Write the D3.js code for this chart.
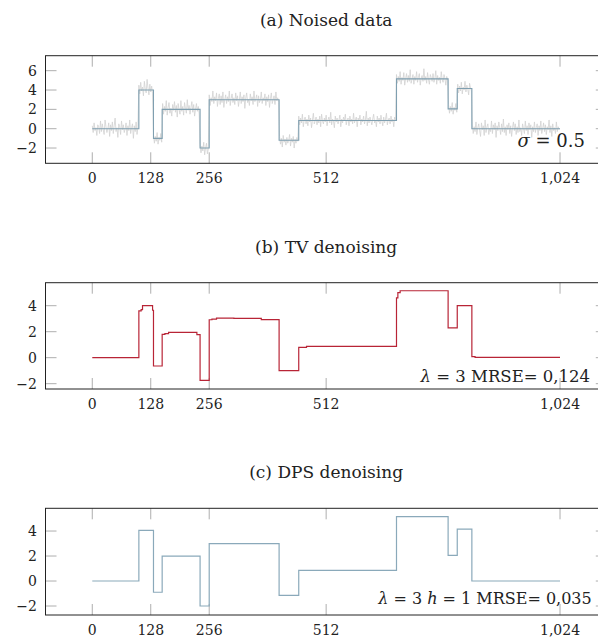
<!DOCTYPE html>
<html>
<head>
<meta charset="utf-8">
<script src="https://cdn.jsdelivr.net/npm/d3@7"></script>
<style>
  body { margin: 0; background: #fff; }
  text { font-family: "DejaVu Serif", serif; fill: #222; }
</style>
</head>
<body>
<div id="chart"></div>
<script>
// x ticks shared by all panels
var xTicks = [0, 128, 256, 512, 1024];

// noisy samples, x = 0, 2, 4, ... 1022
var noised = [
  // 0..100
  0.3, -0.4, 0.6, -0.2, 0.1, -0.7, 0.4, 0.2, -0.5, 0.8,
  -0.3, 0.5, -0.1, -0.6, 0.9, 0.2, -0.4, 0.0, 0.6, -0.8,
  0.4, -0.2, 0.7, -0.5, 0.3, 1.1, -0.3, 0.1, -0.9, 0.5,
  0.2, -0.6, 0.8, -0.1, 0.4, -0.4, 0.0, 0.6, -0.7, 0.3,
  -0.2, 0.9, -0.5, 0.1, 0.5, -1.0, 0.3, -0.3, 0.7, -0.6,
  0.2,
  // 102..132
  4.5, 3.6, 4.8, 3.9, 4.3, 3.4, 4.9, 4.1, 3.7, 5.1, 4.2, 3.5, 4.6, 3.8, 4.4, 3.6,
  // 134..152
  -0.6, -1.5, -0.8, -1.3, -0.4, -1.6, -0.9, -1.2, -0.5, -1.4,
  // 154..234
  2.6, 1.5, 2.3, 1.8, 2.9, 1.4, 2.2, 2.7, 1.6, 2.1,
  1.3, 2.5, 1.9, 2.8, 1.7, 2.4, 1.2, 2.6, 2.0, 1.5,
  2.9, 1.8, 2.3, 1.4, 2.7, 2.1, 1.6, 3.0, 1.9, 2.4,
  1.5, 2.2, 2.8, 1.7, 2.5, 1.3, 2.0, 2.6, 1.8, 2.3,
  1.6,
  // 236..254
  -1.6, -2.5, -1.8, -2.3, -1.4, -2.7, -2.0, -1.5, -2.6, -2.1,
  // 256..408
  3.5, 2.4, 3.2, 2.8, 3.9, 2.6, 3.3, 2.9, 3.7, 2.3,
  3.1, 3.6, 2.5, 3.4, 2.7, 3.8, 2.2, 3.0, 3.5, 2.6,
  3.3, 2.8, 3.9, 2.4, 3.1, 3.6, 2.7, 3.2, 2.5, 3.7,
  2.9, 3.4, 2.3, 3.0, 3.8, 2.6, 3.3, 2.8, 3.5, 2.1,
  3.2, 3.7, 2.7, 3.0, 2.4, 3.6, 2.9, 3.3, 2.5, 3.9,
  2.8, 3.1, 3.5, 2.3, 3.4, 2.7, 3.0, 3.8, 2.6, 3.2,
  2.9, 3.6, 2.4, 3.3, 2.8, 3.5, 2.2, 3.1, 3.7, 2.6,
  3.0, 3.4, 2.5, 3.8, 2.9, 3.2, 2.7,
  // 410..450
  -0.8, -1.6, -1.0, -1.9, -0.7, -1.4, -1.1, -1.7, -0.9, -1.5,
  -1.2, -0.6, -1.8, -1.0, -1.4, -0.8, -2.0, -1.1, -1.5, -0.9,
  -1.3,
  // 452..664
  1.3, 0.4, 1.1, 0.6, 1.5, 0.2, 0.9, 1.2, 0.5, 1.0,
  0.3, 1.4, 0.7, 1.1, 0.1, 0.9, 1.6, 0.5, 0.8, 1.2,
  0.4, 1.0, 0.6, 1.3, 0.2, 1.5, 0.8, 0.5, 1.1, 0.7,
  1.4, 0.3, 0.9, 1.2, 0.6, 1.7, 0.4, 1.0, 0.8, 0.1,
  1.3, 0.7, 1.1, 0.5, 0.9, 1.4, 0.2, 1.0, 0.6, 1.2,
  0.8, 1.5, 0.4, 0.9, 1.1, 0.3, 1.3, 0.7, 1.0, 0.5,
  1.6, 0.6, 0.9, 1.2, 0.2, 1.1, 0.8, 1.4, 0.4, 1.0,
  0.7, 1.3, 0.5, 0.9, 1.8, 0.3, 1.1, 0.6, 1.2, 0.8,
  0.4, 1.0, 1.5, 0.6, 0.9, 0.2, 1.3, 0.7, 1.1, 0.5,
  1.4, 0.8, 0.3, 1.2, 0.6, 1.0, 1.6, 0.4, 0.9, 1.1,
  0.5, 1.3, 0.7, 1.0, 0.2, 1.2, 0.8,
  // 666..778
  5.6, 4.7, 5.4, 4.9, 5.9, 4.6, 5.3, 5.0, 5.8, 4.5,
  5.2, 5.7, 4.8, 5.5, 4.9, 6.1, 4.7, 5.1, 5.6, 4.6,
  5.4, 5.0, 5.9, 4.8, 5.3, 5.7, 4.5, 5.2, 5.5, 4.9,
  6.2, 5.0, 5.4, 4.7, 5.8, 5.1, 4.6, 5.6, 5.3, 4.9,
  5.7, 4.8, 5.2, 6.0, 4.6, 5.5, 5.0, 5.3, 4.7, 5.9,
  5.1, 4.8, 5.6, 5.2, 4.5, 5.4, 5.0,
  // 780..798
  2.5, 1.6, 2.3, 1.8, 2.7, 1.5, 2.2, 1.9, 2.6, 1.7,
  // 800..830
  4.6, 3.7, 4.4, 3.9, 4.8, 3.6, 4.3, 4.0, 4.9, 3.8, 4.5, 4.1, 3.5, 4.7, 4.2, 3.9,
  // 832..1022
  0.4, -0.5, 0.2, -0.3, 0.7, -0.6, 0.1, 0.5, -0.2, -0.8,
  0.6, -0.1, 0.3, -0.7, 0.9, -0.4, 0.2, 0.5, -0.6, 0.0,
  -0.3, 0.8, -0.5, 0.4, -0.1, 0.6, -0.9, 0.3, -0.2, 0.7,
  0.1, -0.6, 0.5, -0.3, 1.0, -0.4, 0.2, -0.7, 0.4, -0.1,
  0.6, -0.5, 0.3, -0.8, 0.1, 0.7, -0.2, 0.5, -0.6, 0.2,
  -0.4, 0.9, -0.3, 0.1, -0.7, 0.5, 0.0, -0.5, 0.8, -0.2,
  0.3, -0.6, 0.6, -0.1, 0.4, -0.9, 0.2, -0.3, 0.7, -0.4,
  0.1, 0.5, -0.7, 0.3, -0.2, 0.8, -0.5, 0.0, 0.6, -0.3,
  0.4, -0.6, 0.2, -0.1, 0.9, -0.4, 0.3, -0.8, 0.5, -0.2,
  0.1, -0.5, 0.7, -0.3, 0.2, -0.1
];

// true signal (step breakpoints)
var truthX = [0, 102, 134, 153, 236, 256, 409, 452, 666, 779, 799, 831, 1024];
var truthY = [0, 4, -1, 2, -2, 3, -1.2, 0.85, 5.15, 2.05, 4.15, 0, 0];

// TV denoised (step breakpoints)
var tvX = [0, 102, 107, 110, 132, 134, 153, 159, 167, 229, 236, 256, 262, 272, 310, 370, 409, 452, 469, 666, 669, 674, 779, 799, 831, 838, 1024];
var tvY = [0, 3.6, 3.7, 4.0, 3.65, -0.64, 1.8, 1.85, 1.95, 1.77, -1.74, 2.92, 2.97, 3.05, 3.02, 2.93, -1.0, 0.8, 0.87, 4.6, 5.0, 5.15, 2.3, 4.0, 0.08, 0.02, 0.02];

// DPS denoised (step breakpoints)
var dpsX = [0, 102, 134, 153, 236, 256, 409, 452, 666, 779, 799, 831, 1024];
var dpsY = [0, 4.05, -0.9, 2.0, -2.0, 3.0, -1.15, 0.85, 5.15, 2.05, 4.15, 0, 0];

var W = 598, H = 638;
var svg = d3.select("#chart").append("svg").attr("width", W).attr("height", H);

var x = d3.scaleLinear().domain([-102.4, 1126.4]).range([45.5, 606.8]);
var fmtX = d3.format(",");

var panels = [
  { title: "(a) Noised data", top: 55.7, bottom: 163.3, yDomain: [-3.58, 7.55], yTicks: [-2, 0, 2, 4, 6],
    annot: [["σ", true], [" = 0.5", false]], annotSize: 18, annotX: 585, annotY: 147 },
  { title: "(b) TV denoising", top: 282.7, bottom: 389, yDomain: [-2.41, 5.77], yTicks: [-2, 0, 2, 4],
    annot: [["λ", true], [" = 3 MRSE= 0,124", false]], annotSize: 16.5, annotX: 590, annotY: 381.7 },
  { title: "(c) DPS denoising", top: 508.3, bottom: 615, yDomain: [-2.72, 5.82], yTicks: [-2, 0, 2, 4],
    annot: [["λ", true], [" = 3 ", false], ["h", true], [" = 1 MRSE= 0,035", false]], annotSize: 16, annotX: 591.7, annotY: 604 }
];

function stepLine(xs, ys, y) {
  return d3.line()
    .x((d, i) => x(xs[i]))
    .y((d, i) => y(ys[i]))
    .curve(d3.curveStepAfter)(xs);
}

panels.forEach(function (p, k) {
  var g = svg.append("g");
  var y = d3.scaleLinear().domain(p.yDomain).range([p.bottom, p.top]);
  var x0 = x.range()[0], x1 = x.range()[1];

  g.append("clipPath").attr("id", "clip" + k)
    .append("rect").attr("x", x0).attr("y", p.top).attr("width", x1 - x0).attr("height", p.bottom - p.top);

  // title
  g.append("text")
    .attr("x", (x0 + x1) / 2)
    .attr("y", p.top - 30)
    .attr("text-anchor", "middle")
    .style("font-size", "17px")
    .text(p.title);

  // ticks (inward, on all four sides)
  var tl = 11;
  var ticks = g.append("g").attr("stroke", "#999").attr("stroke-width", 0.8);
  xTicks.forEach(function (t) {
    ticks.append("line").attr("x1", x(t)).attr("x2", x(t)).attr("y1", p.bottom).attr("y2", p.bottom - tl);
    ticks.append("line").attr("x1", x(t)).attr("x2", x(t)).attr("y1", p.top).attr("y2", p.top + tl);
  });
  p.yTicks.forEach(function (t) {
    ticks.append("line").attr("x1", x0).attr("x2", x0 + tl).attr("y1", y(t)).attr("y2", y(t));
    ticks.append("line").attr("x1", x1).attr("x2", x1 - tl).attr("y1", y(t)).attr("y2", y(t));
  });

  // tick labels
  g.selectAll(".xl").data(xTicks).enter().append("text")
    .attr("x", d => x(d))
    .attr("y", p.bottom + 20)
    .attr("text-anchor", "middle")
    .style("font-size", "14px")
    .text(d => fmtX(d));
  g.selectAll(".yl").data(p.yTicks).enter().append("text")
    .attr("x", 37)
    .attr("y", d => y(d))
    .attr("dy", "0.36em")
    .attr("text-anchor", "end")
    .style("font-size", "14px")
    .text(d => d < 0 ? "\u2212" + Math.abs(d) : d);

  var plot = g.append("g").attr("clip-path", "url(#clip" + k + ")");

  if (k === 0) {
    plot.append("path")
      .attr("d", d3.line().x((d, i) => x(i * 2)).y(d => y(d))(noised))
      .attr("fill", "none")
      .attr("stroke", "#d2d2d2")
      .attr("stroke-width", 0.8);
    plot.append("path")
      .attr("d", stepLine(truthX, truthY, y))
      .attr("fill", "none")
      .attr("stroke", "#7f9fb0")
      .attr("stroke-width", 1.1);
  } else if (k === 1) {
    plot.append("path")
      .attr("d", stepLine(tvX, tvY, y))
      .attr("fill", "none")
      .attr("stroke", "#b82436")
      .attr("stroke-width", 1.2);
  } else {
    plot.append("path")
      .attr("d", stepLine(dpsX, dpsY, y))
      .attr("fill", "none")
      .attr("stroke", "#8aa9ba")
      .attr("stroke-width", 1.2);
  }

  // box
  g.append("rect")
    .attr("x", x0).attr("y", p.top)
    .attr("width", x1 - x0).attr("height", p.bottom - p.top)
    .attr("fill", "none")
    .attr("stroke", "#222")
    .attr("stroke-width", 1);

  // annotation
  var a = g.append("text")
    .attr("x", p.annotX)
    .attr("y", p.annotY)
    .attr("text-anchor", "end")
    .style("font-size", p.annotSize + "px");
  p.annot.forEach(function (s) {
    a.append("tspan").style("font-style", s[1] ? "italic" : "normal").text(s[0]);
  });
});
</script>
</body>
</html>
